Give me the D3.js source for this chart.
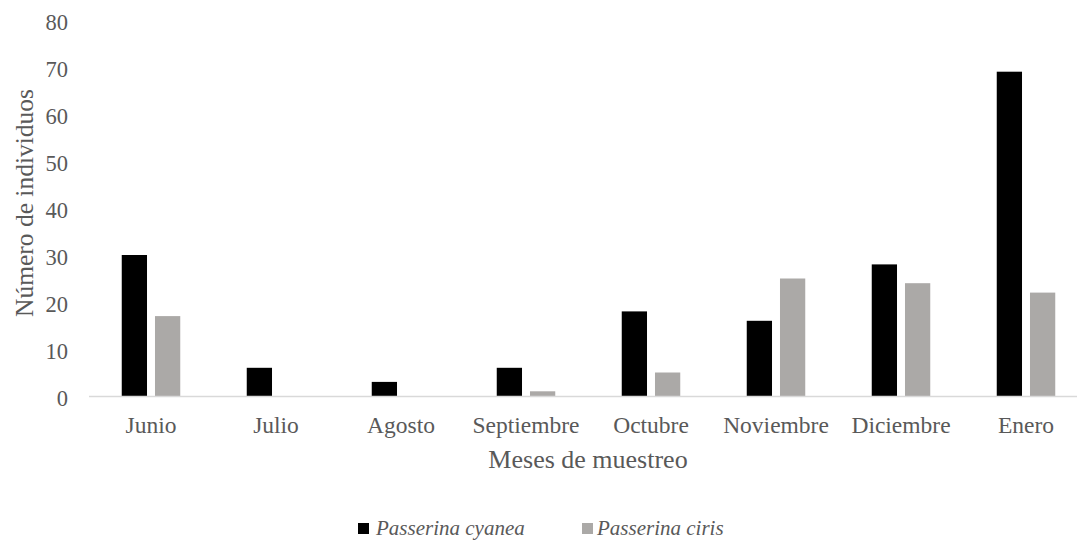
<!DOCTYPE html>
<html><head><meta charset="utf-8">
<script src="https://cdn.jsdelivr.net/npm/d3@7"></script>
<style>body{margin:0;background:#fff}svg{display:block}text{font-family:"Liberation Serif","Times New Roman",serif}</style>
</head><body>
<script>
const categories = ["Junio","Julio","Agosto","Septiembre","Octubre","Noviembre","Diciembre","Enero"];
const cyanea = [30,6,3,6,18,16,28,69];
const ciris = [17,0,0,1,5,25,24,22];
const yTicks = [0,10,20,30,40,50,60,70,80];
const seriesNames = ["Passerina cyanea","Passerina ciris"];
const colors = ["#000000","#aba9a7"];

const W=1077,H=542;
const svg=d3.select("body").append("svg").attr("width",W).attr("height",H);
const x=d3.scaleBand().domain(categories).range([88.5,1088.5]).paddingInner(0).paddingOuter(0);
const xs=d3.scaleBand().domain([0,1]).range([0,x.bandwidth()]).paddingInner(0.24).paddingOuter(1.0);
const y=d3.scaleLinear().domain([0,80]).range([396,20]);

// y tick labels
const ya=svg.append("g").attr("transform","translate(68,0)").call(d3.axisLeft(y).tickValues(yTicks).tickSize(0).tickPadding(0));
ya.select(".domain").remove();
ya.attr("font-family","Liberation Serif").attr("font-size",22.5);
ya.selectAll("text").attr("font-size",22.5).attr("fill","#595959").attr("y",2.5);

const data=[cyanea,ciris];
data.forEach((s,si)=>{
  svg.append("g").selectAll("rect").data(s).join("rect")
    .attr("x",(d,i)=>x(categories[i])+xs(si))
    .attr("width",xs.bandwidth())
    .attr("y",d=>y(d))
    .attr("height",d=>y(0)-y(d))
    .attr("fill",colors[si]);
});

// x axis
const xa=svg.append("g").attr("transform","translate(0,396)").call(d3.axisBottom(x).tickSize(0).tickPadding(20));
xa.attr("font-family","Liberation Serif").attr("font-size",23.5);
xa.select(".domain").attr("stroke","#d9d9d9").attr("stroke-width",1.5);
xa.selectAll("text").attr("font-size",23.5).attr("fill","#595959");

svg.append("text").attr("x",588).attr("y",468).attr("text-anchor","middle").attr("font-size",26).attr("fill","#595959").text("Meses de muestreo");
svg.append("text").attr("transform","translate(33,203) rotate(-90)").attr("text-anchor","middle").attr("font-size",25.5).attr("fill","#595959").text("Número de individuos");

// legend
const leg=[{x:358,tx:376},{x:582,tx:597}];
seriesNames.forEach((n,i)=>{
  svg.append("rect").attr("x",leg[i].x).attr("y",523).attr("width",11).attr("height",11).attr("fill",colors[i]);
  svg.append("text").attr("x",leg[i].tx).attr("y",535).attr("font-size",21).attr("font-style","italic").attr("fill","#595959").text(n);
});
</script>
</body></html>
